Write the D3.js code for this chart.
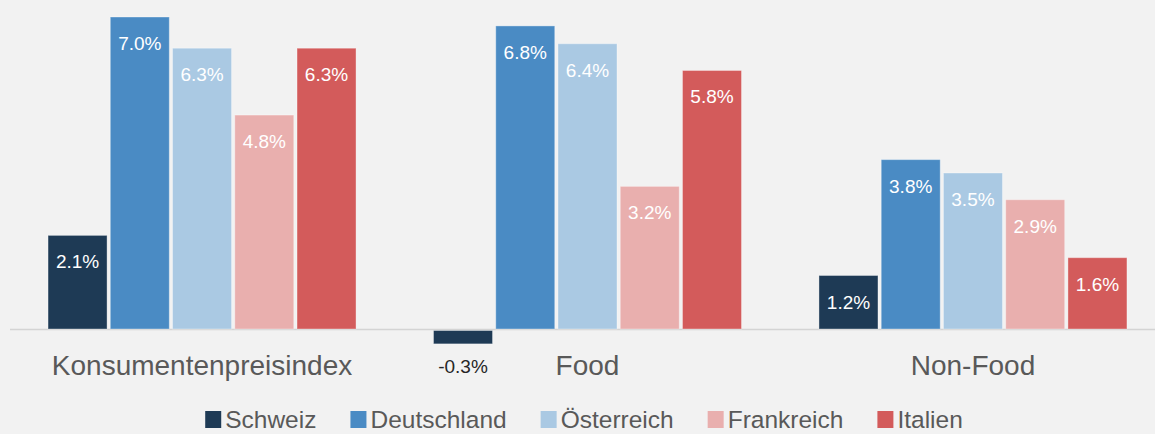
<!DOCTYPE html>
<html>
<head>
<meta charset="utf-8">
<script src="https://cdn.jsdelivr.net/npm/d3@7"></script>
<style>
  html, body { margin: 0; padding: 0; background: #f2f2f2; }
  svg { display: block; font-family: "Liberation Sans", Arial, sans-serif; }
</style>
</head>
<body>
<div id="chart"></div>
<script>
var categories = ["Konsumentenpreisindex", "Food", "Non-Food"];
var countries  = ["Schweiz", "Deutschland", "Österreich", "Frankreich", "Italien"];
var colors     = ["#1e3a55", "#4a8bc4", "#aac9e3", "#e9afae", "#d35b5b"];

// values per country, in order of categories
var schweiz     = [2.1, -0.3, 1.2];
var deutschland = [7.0, 6.8, 3.8];
var oesterreich = [6.3, 6.4, 3.5];
var frankreich  = [4.8, 3.2, 2.9];
var italien     = [6.3, 5.8, 1.6];

var seriesValues = [schweiz, deutschland, oesterreich, frankreich, italien];

var width = 1155, height = 434;

var svg = d3.select("#chart").append("svg")
    .attr("width", width)
    .attr("height", height);

var x0 = d3.scaleBand()
    .domain(categories)
    .range([9.5, 1165.5])
    .paddingInner(0.201)
    .paddingOuter(0.1);

var x1 = d3.scaleBand()
    .domain(countries)
    .range([0, x0.bandwidth()])
    .paddingInner(0.052);

var y = d3.scaleLinear()
    .domain([0, 7])
    .range([329, 17]);

var color = d3.scaleOrdinal().domain(countries).range(colors);

var rows = [];
categories.forEach(function(cat, ci) {
  countries.forEach(function(c, si) {
    rows.push({ cat: cat, country: c, value: seriesValues[si][ci] });
  });
});

// baseline
svg.append("line")
    .attr("x1", 10).attr("x2", width)
    .attr("y1", y(0) + 0.5).attr("y2", y(0) + 0.5)
    .style("stroke", "#d4d4d4")
    .style("stroke-width", 1.5);

var bars = svg.append("g");

bars.selectAll("rect")
    .data(rows)
    .enter().append("rect")
    .attr("x", function(d) { return x0(d.cat) + x1(d.country); })
    .attr("y", function(d) { return d.value >= 0 ? y(d.value) : y(0) + 1.5; })
    .attr("width", x1.bandwidth())
    .attr("height", function(d) { return Math.abs(y(d.value) - y(0)); })
    .style("fill", function(d) { return color(d.country); })
    .style("stroke", "rgba(255,255,255,0.35)")
    .style("stroke-width", 1);

bars.selectAll("text")
    .data(rows)
    .enter().append("text")
    .attr("x", function(d) { return x0(d.cat) + x1(d.country) + x1.bandwidth() / 2; })
    .attr("y", function(d) { return d.value >= 0 ? y(d.value) + 33 : 373; })
    .attr("text-anchor", "middle")
    .style("font-size", "19px")
    .style("fill", function(d) { return d.value >= 0 ? "#ffffff" : "#262626"; })
    .text(function(d) { return d.value.toFixed(1) + "%"; });

// category labels
svg.append("g").selectAll("text")
    .data(categories)
    .enter().append("text")
    .attr("x", function(d) { return x0(d) + x0.bandwidth() / 2; })
    .attr("y", 375)
    .attr("text-anchor", "middle")
    .style("font-size", "28px")
    .style("fill", "#595959")
    .text(function(d) { return d; });

// legend
var legend = svg.append("g").attr("class", "legend");
var lx = 0, gap = 34;
var items = legend.selectAll("g")
    .data(countries)
    .enter().append("g");

items.append("rect")
    .attr("width", 16).attr("height", 17)
    .attr("y", 411)
    .style("fill", function(d) { return color(d); });

items.append("text")
    .attr("x", 20)
    .attr("y", 428)
    .style("font-size", "24.5px")
    .style("fill", "#595959")
    .text(function(d) { return d; });

items.each(function() {
  var g = d3.select(this);
  g.attr("transform", "translate(" + lx + ",0)");
  lx += 20 + g.select("text").node().getComputedTextLength() + gap;
});
var legendWidth = lx - gap;
legend.attr("transform", "translate(" + (584 - legendWidth / 2) + ",0)");
</script>
</body>
</html>
